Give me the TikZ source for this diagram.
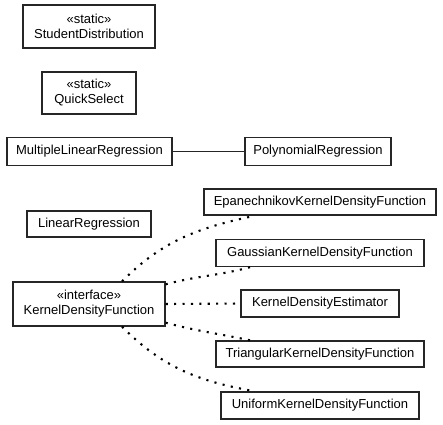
\documentclass[tikz,border=0pt]{standalone}
\usepackage{fontspec}
\setmainfont{Liberation Sans}
\begin{document}
\begin{tikzpicture}[x=1pt,y=-1pt,
  cls/.style={draw=black!85,line width=1.4pt,fill=white,inner sep=0pt,align=center,font=\fontsize{13}{15}\selectfont},
  dep/.style={line width=2.1pt,dash pattern=on 2.1pt off 6.3pt,black},
  assoc/.style={line width=1.4pt,black!85}]
\useasboundingbox (0,0) rectangle (443,424);
\node[cls,minimum width=132pt,minimum height=43pt] (sd) at (89,26.5) {«static»\\StudentDistribution};
\node[cls,minimum width=94pt,minimum height=42pt] (qs) at (89,93) {«static»\\QuickSelect};
\node[cls,minimum width=165pt,minimum height=28pt] (mlr) at (89.5,151.5) {MultipleLinearRegression};
\node[cls,minimum width=146pt,minimum height=28pt] (pr) at (318,151.5) {PolynomialRegression};
\node[cls,minimum width=232pt,minimum height=26pt] (ep) at (320,202) {EpanechnikovKernelDensityFunction};
\node[cls,minimum width=124pt,minimum height=26pt] (lr) at (89,224) {LinearRegression};
\node[cls,minimum width=208pt,minimum height=27pt] (ga) at (320,253) {GaussianKernelDensityFunction};
\node[cls,minimum width=152pt,minimum height=44pt] (kdf) at (89,304) {«interface»\\KernelDensityFunction};
\node[cls,minimum width=158pt,minimum height=27pt] (kde) at (320,303.5) {KernelDensityEstimator};
\node[cls,minimum width=208pt,minimum height=26pt] (tr) at (320,354) {TriangularKernelDensityFunction};
\node[cls,minimum width=198pt,minimum height=27pt] (un) at (320,405.5) {UniformKernelDensityFunction};
\draw[assoc] (mlr) -- (pr);
\draw[dep] ([xshift=33pt]kdf.north) to[out=45,in=192] ([xshift=-65pt]ep.south);
\draw[dep] ([yshift=-3pt]kdf.north east) to[out=15,in=195] ([xshift=-70pt]ga.south);
\draw[dep] (kdf.east) -- (kde.west);
\draw[dep] ([yshift=4pt]kdf.south east) to[out=-15,in=168] ([xshift=-70pt]tr.north);
\draw[dep] ([xshift=33pt]kdf.south) to[out=-45,in=170] ([xshift=-65pt]un.north);
\end{tikzpicture}
\end{document}
